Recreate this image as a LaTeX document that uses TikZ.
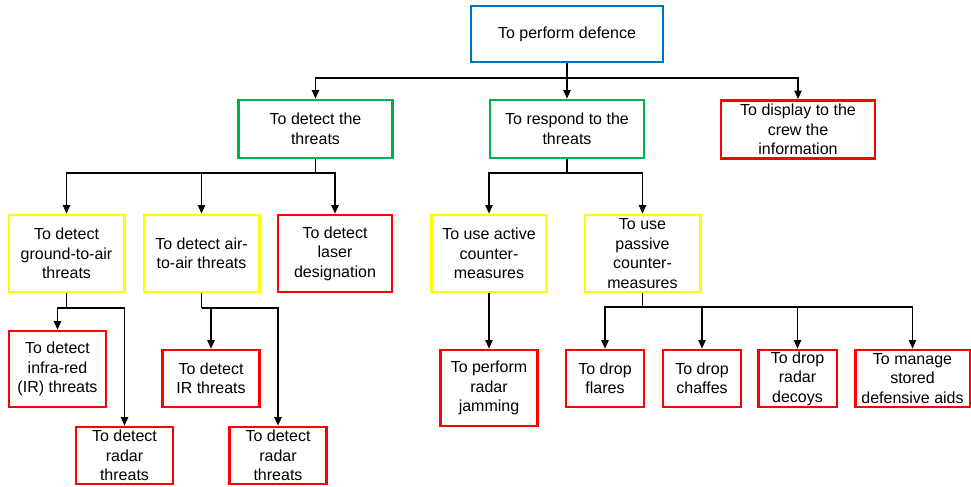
\documentclass[tikz,border=0pt]{standalone}
\usepackage{fontspec}
\setmainfont{Liberation Sans}
\usepackage{tikz}
\usetikzlibrary{arrows.meta}

\definecolor{boxblue}{RGB}{0,112,192}
\definecolor{boxgreen}{RGB}{0,176,80}
\definecolor{boxyellow}{RGB}{255,255,0}
\definecolor{boxred}{RGB}{255,0,0}

\begin{document}
\begin{tikzpicture}[x=0.75pt,y=-0.75pt,
                box/.style={draw,line width=2pt,inner sep=0pt,align=center,fill=white,
                    font=\fontsize{12}{14.6}\selectfont},
                topbox/.style={box,draw=boxblue,minimum width=144pt,minimum height=42pt},
                mainbox/.style={box,draw=boxgreen,minimum width=115.5pt,minimum height=43.5pt},
                subbox/.style={box,draw=boxyellow,minimum width=86.5pt,minimum height=57.75pt},
                leafbox/.style={box,draw=boxred,minimum width=72.75pt,minimum height=42.75pt},
                link/.style={line width=1.1pt},
                arr/.style={link,-{Triangle[length=6.5pt,width=5.5pt]}}]
                \useasboundingbox (0,0) rectangle (971,486);
                % top level
                \node[topbox] (defence) at (567,34) {To perform defence};
                \node[mainbox] (detect) at (315.5,129) {To detect the\\threats};
                \node[mainbox] (respond) at (567,129) {To respond to the\\threats};
                \node[leafbox,minimum width=115.5pt,minimum height=43.5pt] (display) at (798,129.5) {To display to the\\crew the\\information};
                % detection branch
                \node[subbox] (ground) at (66.5,253.5) {To detect\\ground-to-air\\threats};
                \node[subbox] (air) at (201.5,253.5) {To detect air-\\to-air threats};
                \node[leafbox,minimum width=85.5pt,minimum height=57.75pt] (laser) at (335,253.5) {To detect\\laser\\designation};
                \node[leafbox,minimum height=57pt] (irgnd) at (57.5,369) {To detect\\infra-red\\(IR) threats};
                \node[leafbox] (radargnd) at (124.5,455.5) {To detect\\radar\\threats};
                \node[leafbox] (irair) at (211,378.5) {To detect\\IR threats};
                \node[leafbox] (radarair) at (278,455.5) {To detect\\radar\\threats};
                % response branch
                \node[subbox] (active) at (489,253.5) {To use active\\counter-\\measures};
                \node[subbox] (passive) at (642.5,253.5) {To use\\passive\\counter-\\measures};
                \node[leafbox,minimum height=57pt] (jamming) at (489,388) {To perform\\radar\\jamming};
                \node[leafbox,minimum width=58.5pt] (flares) at (605,378.5) {To drop\\flares};
                \node[leafbox,minimum width=58.5pt] (chaffes) at (702,378.5) {To drop\\chaffes};
                \node[leafbox,minimum width=59pt] (decoys) at (797.5,378.5) {To drop\\radar\\decoys};
                \node[leafbox,minimum width=86pt] (stored) at (912.5,378.5) {To manage\\stored\\defensive aids};
                % connectors
                \coordinate (fork0) at (567,78);
                \coordinate (fork1) at (315.5,173);
                \coordinate (fork2) at (567,173);
                \coordinate (fork3) at (66.5,308);
                \coordinate (fork4) at (201.5,308);
                \coordinate (fork5) at (642.5,307);
                \draw[link] (defence.south) -- (fork0);
                \draw[arr] (fork0) -| (detect.north);
                \draw[arr] (fork0) -- (respond.north);
                \draw[arr] (fork0) -| (display.north);
                \draw[link] (detect.south) -- (fork1);
                \draw[arr] (fork1) -| (ground.north);
                \draw[arr] (fork1) -| (air.north);
                \draw[arr] (fork1) -| (laser.north);
                \draw[link] (respond.south) -- (fork2);
                \draw[arr] (fork2) -| (active.north);
                \draw[arr] (fork2) -| (passive.north);
                \draw[link] (ground.south) -- (fork3);
                \draw[arr] (fork3) -| (irgnd.north);
                \draw[arr] (fork3) -| (radargnd.north);
                \draw[link] (air.south) -- (fork4);
                \draw[arr] (fork4) -| (irair.north);
                \draw[arr] (fork4) -| (radarair.north);
                \draw[arr] (active.south) -- (jamming.north);
                \draw[link] (passive.south) -- (fork5);
                \draw[arr] (fork5) -| (flares.north);
                \draw[arr] (fork5) -| (chaffes.north);
                \draw[arr] (fork5) -| (decoys.north);
                \draw[arr] (fork5) -| (stored.north);
            \end{tikzpicture}
\end{document}
